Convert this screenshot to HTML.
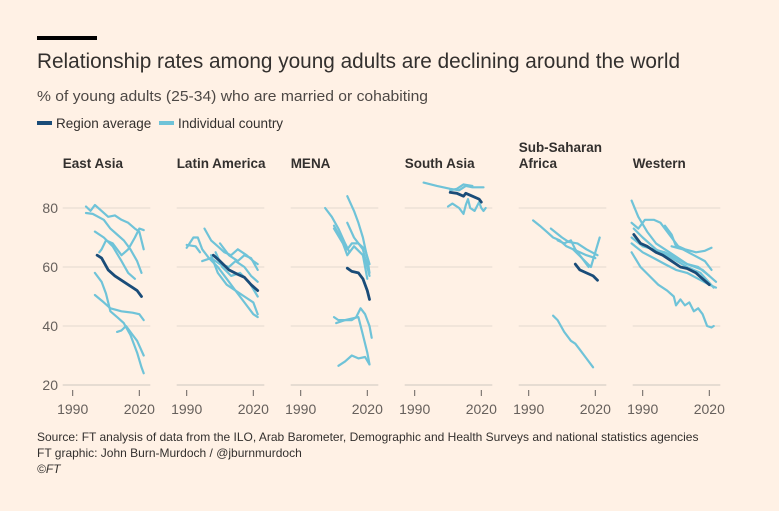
<!DOCTYPE html>
<html><head><meta charset="utf-8"><style>
html,body{margin:0;padding:0;background:#FFF1E5;}
svg{display:block;font-family:"Liberation Sans",sans-serif;}
</style></head><body>
<svg id="chart" width="779" height="511" viewBox="0 0 779 511">
<rect width="779" height="511" fill="#FFF1E5"/>
<rect x="37" y="36" width="60" height="4" fill="#000"/>
<text x="37" y="68" font-size="21" fill="#33302E" textLength="643" lengthAdjust="spacingAndGlyphs">Relationship rates among young adults are declining around the world</text>
<text x="37" y="101" font-size="15" fill="#4D4845" textLength="391" lengthAdjust="spacingAndGlyphs">% of young adults (25-34) who are married or cohabiting</text>
<g>
<rect x="37" y="121" width="15" height="4" fill="#1A4C78"/>
<text x="56" y="128" font-size="13.5" fill="#33302E">Region average</text>
<rect x="159" y="121" width="15" height="4" fill="#6FC3D8"/>
<text x="178" y="128" font-size="13.5" fill="#33302E">Individual country</text>
</g>
<g id="panels"></g>
<text x="37" y="441" font-size="12" fill="#33302E">Source: FT analysis of data from the ILO, Arab Barometer, Demographic and Health Surveys and national statistics agencies</text>
<text x="37" y="457" font-size="12" fill="#33302E">FT graphic: John Burn-Murdoch / @jburnmurdoch</text>
<text x="37" y="473" font-size="12" font-style="italic" fill="#33302E">©FT</text>
</svg>
<script>
const regions = ["East Asia","Latin America","MENA","South Asia","Sub-Saharan|Africa","Western"];
const yTicks = [20,40,60,80];
const xTicks = [1990,2020];
const averages = [
 [[2001,64],[2003,63],[2006,59],[2009,57],[2013,55],[2017,53],[2019,52],[2021,50]],
 [[2002,64],[2005,62],[2009,59],[2013,57.5],[2016,56.5],[2019,54],[2022,52]],
 [[2011,59.6],[2013,58.5],[2016,58],[2018,56],[2020,52],[2021,49]],
 [[2006,85.3],[2009,85],[2012,84],[2013,85],[2016,84],[2019,83],[2020,82]],
 [[2011,61],[2013,59],[2016,58],[2019,57],[2021,55.5]],
 [[1986,71],[1989,68],[1992,67],[1996,65],[1999,64],[2003,62],[2007,60],[2010,59.5],[2014,58],[2017,56],[2020,54]]
];
const countries = [
 [
  [[1996,80.5],[1998,79],[2000,81],[2003,79],[2006,77],[2009,77.5],[2012,76],[2015,75],[2018,73],[2020,72],[2022,66]],
  [[1996,78.3],[1999,78],[2004,76],[2007,73],[2010,71],[2013,69],[2016,66],[2019,62],[2021,58]],
  [[2000,72],[2004,70],[2008,67],[2012,62],[2015,58],[2018,56]],
  [[2002,65],[2003,66],[2005,69],[2008,68],[2012,64],[2015,66],[2018,70],[2020,73],[2022,72.5]],
  [[2000,58],[2003,55],[2005,51],[2007,45],[2010,43],[2013,41],[2016,37],[2019,31],[2021,26],[2022,24]],
  [[2000,50.5],[2004,48],[2007,46],[2012,45],[2017,44.5],[2020,44],[2022,42]],
  [[2010,38],[2012,38.5],[2014,40],[2017,37],[2019,35],[2022,30]]
 ],
 [
  [[1990,66.5],[1993,70],[1995,70],[1997,66],[2000,63],[2004,60],[2008,56],[2012,52],[2016,48],[2020,44],[2022,43]],
  [[1990,67.5],[1994,67],[1996,65]],
  [[1998,73],[2001,69],[2004,67],[2007,65],[2010,64],[2013,66],[2017,64],[2020,62],[2022,61]],
  [[1997,62],[2001,63],[2005,61],[2009,60],[2012,62],[2016,60],[2019,57],[2022,55]],
  [[2001,64],[2004,58],[2008,54],[2012,52],[2016,50],[2020,48],[2022,44]],
  [[2003,65],[2006,60],[2010,57],[2014,58],[2018,55],[2022,50]],
  [[2005,68],[2009,64],[2013,62],[2016,64],[2019,63],[2022,59]]
 ],
 [
  [[2001,80],[2004,77],[2007,73],[2010,68],[2012,65]],
  [[2011,84],[2014,79],[2016,75],[2018,70],[2020,63],[2021,58]],
  [[2005,74],[2008,70],[2011,66],[2013,68],[2016,68],[2019,66],[2021,61]],
  [[2005,73],[2009,68],[2011,64],[2014,67],[2018,64],[2020,56]],
  [[2011,75],[2014,70],[2018,66],[2021,57]],
  [[2005,43],[2007,42],[2010,42],[2013,42],[2015,43],[2017,46],[2019,44],[2021,40],[2022,36]],
  [[2006,41],[2010,42],[2013,42.5],[2016,43],[2018,37],[2020,31],[2021,27]],
  [[2007,26.5],[2010,28],[2013,30],[2016,29],[2019,29.5],[2021,27]]
 ],
 [
  [[1994,88.6],[2000,87.5],[2006,86.5],[2010,86],[2013,87.5],[2016,87],[2021,87]],
  [[2006,86],[2009,86.5],[2012,88],[2016,87.5]],
  [[2005,80.5],[2007,81.5],[2010,80],[2012,78],[2013,81],[2014,83],[2015,80],[2017,79],[2019,82],[2020,80],[2021,79],[2022,80]]
 ],
 [
  [[1992,75.8],[1995,74],[1998,72],[2001,70],[2004,69],[2007,67],[2010,66],[2013,65],[2016,64],[2020,63]],
  [[2000,73],[2005,70],[2008,68.5],[2012,68],[2016,66],[2021,64]],
  [[2003,69],[2006,68],[2009,69],[2011,66],[2014,63],[2018,60],[2020,65],[2022,70]],
  [[2010,66],[2014,63],[2017,60]],
  [[2001,43.5],[2003,42],[2006,38],[2009,35],[2011,34],[2013,32],[2016,29],[2019,26]]
 ],
 [
  [[1985,82.5],[1988,77],[1992,72],[1996,68],[2000,66],[2004,64],[2010,61],[2017,59],[2020,57]],
  [[1985,75],[1988,73],[1991,76],[1995,76],[1998,75],[2001,72],[2004,69],[2006,67],[2009,66],[2014,65],[2018,65.5],[2021,66.5]],
  [[2000,74],[2003,71],[2005,67]],
  [[1985,70],[1990,67],[1995,66],[2000,65],[2005,63],[2010,61],[2015,60],[2020,57],[2023,55]],
  [[1985,68],[1990,65],[1995,63],[2000,61],[2005,59],[2010,58],[2015,56],[2020,54],[2023,53]],
  [[1985,65],[1989,60],[1993,57],[1997,54],[2001,52],[2004,50],[2005,47],[2007,49],[2009,47],[2011,48],[2013,45],[2015,46],[2017,44],[2019,40],[2021,39.5],[2022,40]],
  [[2003,67],[2008,66],[2013,64],[2018,62],[2021,59]],
  [[1986,73],[1990,70],[1996,66],[2003,63],[2010,60],[2016,58],[2022,53]]
 ]
];
const NS="http://www.w3.org/2000/svg";
const g=document.getElementById('panels');
function yS(v){return 385-(v-20)*2.95;}
function xS(p,yr){return 72.7+p*114+(yr-1990)*2.22;}
function mk(tag,attrs){const e=document.createElementNS(NS,tag);for(const k in attrs)e.setAttribute(k,attrs[k]);return e;}
function pathD(p,pts){return pts.map((q,i)=>(i?'L':'M')+xS(p,q[0]).toFixed(1)+','+yS(q[1]).toFixed(1)).join('');}
regions.forEach((r,p)=>{
  const pg=mk('g',{});
  
  
  g.appendChild(pg);
  const x0=xS(p,1990)-10, x1=xS(p,2020)+11;
  yTicks.forEach(t=>{
    const l=mk('line',{x1:x0,x2:x1,y1:yS(t),y2:yS(t),stroke:t===20?'#CEC6BE':'#E3D9CF','stroke-width':1});
    
    
    pg.appendChild(l);
    if(p===0){
      const tx=mk('text',{x:58,y:yS(t)+5,'font-size':14,fill:'#66605C','text-anchor':'end'});
      tx.textContent=t;
      
      
      pg.appendChild(tx);
    }
  });
  xTicks.forEach(t=>{
    const l=mk('line',{x1:xS(p,t),x2:xS(p,t),y1:390,y2:396,stroke:'#66605C','stroke-width':1});
    
    
    pg.appendChild(l);
    const tx=mk('text',{x:xS(p,t),y:414,'font-size':14,fill:'#66605C','text-anchor':'middle'});
    tx.textContent=t;
    
    
    pg.appendChild(tx);
  });
  const parts=r.split('|');
  parts.forEach((s,i)=>{
    const tx=mk('text',{x:x0,y:168-(parts.length-1-i)*16,'font-size':13.5,fill:'#33302E','font-weight':'bold'});
    tx.textContent=s;
    
    
    pg.appendChild(tx);
  });
  countries[p].forEach(pts=>{
    const pa=mk('path',{d:pathD(p,pts),fill:'none',stroke:'#6FC3D8','stroke-width':2.2,'stroke-linejoin':'round','stroke-linecap':'round'});
    
    
    pg.appendChild(pa);
  });
  const av=mk('path',{d:pathD(p,averages[p]),fill:'none',stroke:'#1A4C78','stroke-width':2.8,'stroke-linejoin':'round','stroke-linecap':'round'});
  
  
  pg.appendChild(av);
});
</script>
</body></html>
